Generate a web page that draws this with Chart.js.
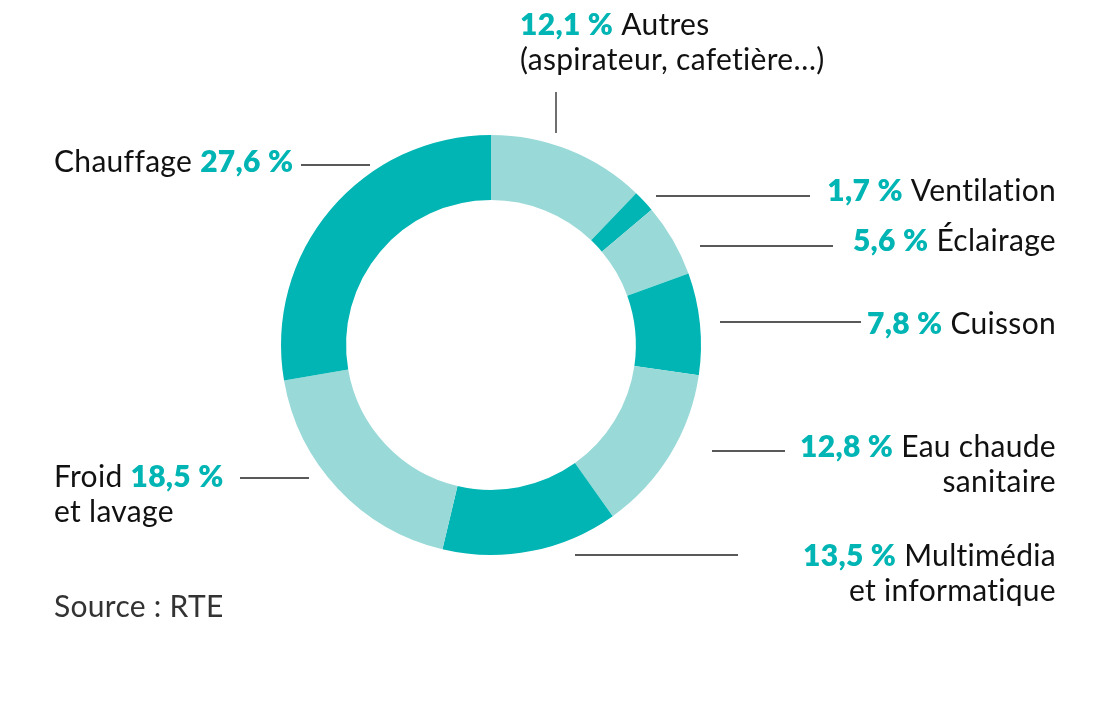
<!DOCTYPE html>
<html>
<head>
<meta charset="utf-8">
<script src="https://cdn.jsdelivr.net/npm/chart.js@4"></script>
<style>
  html, body { margin: 0; padding: 0; background: #fff; }
  #wrap { width: 1110px; height: 704px; position: relative; }
</style>
</head>
<body>
<div id="wrap"><canvas id="consoChart"></canvas></div>
<script>
// Répartition de la consommation (clockwise from 12 o'clock)
const categories = ['Autres', 'Ventilation', 'Éclairage', 'Cuisson', 'Eau chaude sanitaire', 'Multimédia et informatique', 'Froid et lavage', 'Chauffage'];
const shares = [12.1, 1.7, 5.6, 7.8, 12.8, 13.5, 18.5, 27.6];
const textBefore = ['', '', '', '', '', '', 'Froid', 'Chauffage'];
const textAfter = ['Autres', 'Ventilation', 'Éclairage', 'Cuisson', 'Eau chaude', 'Multimédia', '', ''];
const secondLine = ['(aspirateur, cafetière…)', '', '', '', 'sanitaire', 'et informatique', 'et lavage', ''];

const DARK = '#00B5B3';
const LIGHT = '#99D9D8';
const sliceColors = shares.map((v, i) => (i % 2 === 0 ? LIGHT : DARK));

// label placement: anchor x, baseline y, alignment, leader line
const labelLayout = [
    { x: 520, y: 35, align: 'left', line: [556, 92, 556, 133] },
    { x: 1056, y: 201, align: 'right', line: [656, 196, 810, 196] },
    { x: 1056, y: 251, align: 'right', line: [700, 246, 833, 246] },
    { x: 1056, y: 334, align: 'right', line: [720, 322, 861, 322] },
    { x: 1056, y: 457, align: 'right', line: [712, 451, 785, 451] },
    { x: 1056, y: 566, align: 'right', line: [575, 555, 738, 555] },
    { x: 54, y: 487, align: 'left', line: [240, 478, 309, 478] },
    { x: 54, y: 172, align: 'left', line: [301, 165, 370, 165] }
];

const FONT = 'Lato, "Noto Sans", sans-serif';
const SIZE = 30;
const LINE_H = 35;

function pct(v) {
    return v.toFixed(1).replace('.', ',') + '\u00a0%';
}

const labelPlugin = {
    id: 'sliceLabels',
    afterDraw(chart) {
        const ctx = chart.ctx;
        ctx.save();
        ctx.textBaseline = 'alphabetic';
        ctx.letterSpacing = '0.3px'; // also stops the "ti" ligature
        const normal = `400 ${SIZE}px ${FONT}`;
        const bold = `800 ${SIZE}px ${FONT}`;

        shares.forEach((v, i) => {
            const lay = labelLayout[i];
            const parts = [];
            if (textBefore[i]) parts.push({ t: textBefore[i] + ' ', f: normal, c: '#111' });
            parts.push({ t: pct(v), f: bold, c: DARK });
            if (textAfter[i]) parts.push({ t: ' ' + textAfter[i], f: normal, c: '#111' });

            let total = 0;
            parts.forEach(p => { ctx.font = p.f; p.w = ctx.measureText(p.t).width; total += p.w; });
            let x = lay.align === 'right' ? lay.x - total : lay.x;
            ctx.textAlign = 'left';
            parts.forEach(p => {
                ctx.font = p.f;
                ctx.fillStyle = p.c;
                ctx.fillText(p.t, x, lay.y);
                x += p.w;
            });

            if (secondLine[i]) {
                ctx.font = normal;
                ctx.fillStyle = '#111';
                ctx.textAlign = lay.align;
                ctx.fillText(secondLine[i], lay.x, lay.y + LINE_H);
            }

            const l = lay.line;
            ctx.beginPath();
            ctx.strokeStyle = '#222';
            ctx.lineWidth = 1.3;
            ctx.moveTo(l[0], l[1]);
            ctx.lineTo(l[2], l[3]);
            ctx.stroke();
        });

        ctx.font = `400 ${SIZE}px ${FONT}`;
        ctx.fillStyle = '#333';
        ctx.textAlign = 'left';
        ctx.fillText('Source\u202f: RTE', 54, 617);
        ctx.restore();
    }
};

new Chart(document.getElementById('consoChart'), {
    type: 'doughnut',
    data: {
        labels: categories,
        datasets: [{
            data: shares,
            backgroundColor: sliceColors,
            borderWidth: 0,
            hoverOffset: 0
        }]
    },
    options: {
        responsive: true,
        maintainAspectRatio: false,
        animation: false,
        cutout: '69%',
        layout: { padding: { left: 281, right: 409, top: 135, bottom: 149 } },
        plugins: {
            legend: { display: false },
            tooltip: { enabled: false }
        }
    },
    plugins: [labelPlugin]
});
</script>
</body>
</html>
